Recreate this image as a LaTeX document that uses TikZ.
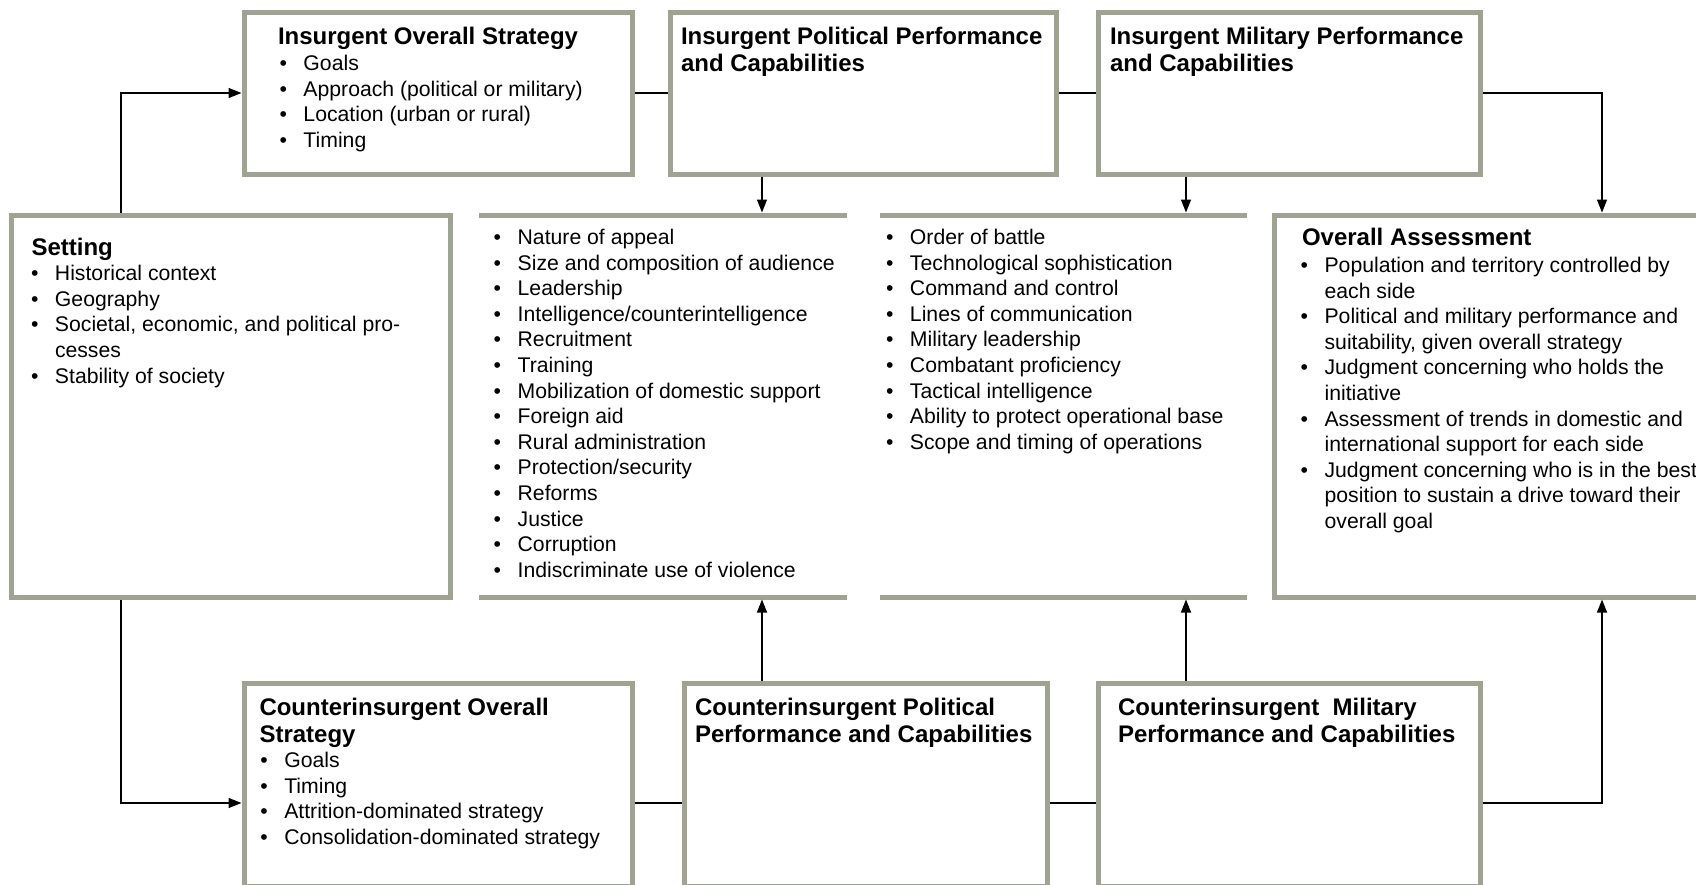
\documentclass[tikz,border=0pt]{standalone}
\usepackage{fontspec}
\setmainfont{Liberation Sans}
\usetikzlibrary{arrows.meta}
\definecolor{bordercol}{RGB}{158,163,146}
\newcommand\bodyfnt{\fontsize{21.2}{25.6}\selectfont}
\newcommand\titlefnt{\fontsize{24}{27}\selectfont\bfseries}
\newcommand\bi[1]{\makebox[24pt][l]{•}#1}
\newcommand\bc[1]{\hspace*{24pt}#1}
\begin{document}
\begin{tikzpicture}[x=1pt,y=-1pt,
  box/.style={draw=bordercol,line width=5pt,inner sep=0pt},
  area/.style={inner sep=0pt,outer sep=0pt},
  rulelin/.style={draw=bordercol,line width=5pt},
  conn/.style={line width=1.3pt},
  arr/.style={conn,-{Triangle[length=13pt,width=10pt]}},
  ttl/.style={anchor=base west,inner sep=0pt,outer sep=0pt,align=left,font=\titlefnt},
  lst/.style={anchor=base west,inner sep=0pt,outer sep=0pt,align=left,font=\bodyfnt},
]
\useasboundingbox (0,0) rectangle (1696,884);
\clip (0,0) rectangle (1696,884);

% boxes
\node[box,minimum width=388pt,minimum height=162pt] (ios) at (438,93) {};
\node[box,minimum width=386pt,minimum height=162pt] (ipp) at (863,93) {};
\node[box,minimum width=382pt,minimum height=162pt] (imp) at (1289,93) {};
\node[box,minimum width=439pt,minimum height=382pt] (setting) at (230.5,406) {};
\node[area,minimum width=368pt,minimum height=382pt] (pol) at (663,406) {};
\node[area,minimum width=367pt,minimum height=382pt] (mil) at (1063.5,406) {};
\node[box,minimum width=446pt,minimum height=382pt] (oa) at (1497,406) {};
\node[box,minimum width=388pt,minimum height=203pt] (cios) at (438,784.5) {};
\node[box,minimum width=363pt,minimum height=203pt] (cipp) at (865.5,784.5) {};
\node[box,minimum width=382pt,minimum height=203pt] (cimp) at (1289,784.5) {};

\draw[rulelin] (pol.north west) -- (pol.north east);
\draw[rulelin] (pol.south west) -- (pol.south east);
\draw[rulelin] (mil.north west) -- (mil.north east);
\draw[rulelin] (mil.south west) -- (mil.south east);

% texts (base anchor = baseline of the last line)
\node[ttl] (iost) at (278,44.6) {Insurgent Overall Strategy};
\node[lst] (iosl) at (279.5,147.4) {\bi{Goals}\\\bi{Approach (political or military)}\\\bi{Location (urban or rural)}\\\bi{Timing}};
\node[ttl] (ippt) at (681,71.6) {Insurgent Political Performance\\and Capabilities};
\node[ttl] (impt) at (1110,71.6) {Insurgent Military Performance\\and Capabilities};

\node[ttl] (sett) at (31.5,255.6) {Setting};
\node[lst] (setl) at (31,383) {\bi{Historical context}\\\bi{Geography}\\\bi{Societal, economic, and political pro-}\\\bc{cesses}\\\bi{Stability of society}};

\node[lst] (poll) at (493.7,577.2) {\bi{Nature of appeal}\\\bi{Size and composition of audience}\\\bi{Leadership}\\\bi{Intelligence/counterintelligence}\\\bi{Recruitment}\\\bi{Training}\\\bi{Mobilization of domestic support}\\\bi{Foreign aid}\\\bi{Rural administration}\\\bi{Protection/security}\\\bi{Reforms}\\\bi{Justice}\\\bi{Corruption}\\\bi{Indiscriminate use of violence}};

\node[lst] (mill) at (886,449.2) {\bi{Order of battle}\\\bi{Technological sophistication}\\\bi{Command and control}\\\bi{Lines of communication}\\\bi{Military leadership}\\\bi{Combatant proficiency}\\\bi{Tactical intelligence}\\\bi{Ability to protect operational base}\\\bi{Scope and timing of operations}};

\node[ttl] (oat) at (1302,245.6) {Overall Assessment};
\node[lst] (oal) at (1300.6,528.4) {\bi{Population and territory controlled by}\\\bc{each side}\\\bi{Political and military performance and}\\\bc{suitability, given overall strategy}\\\bi{Judgment concerning who holds the}\\\bc{initiative}\\\bi{Assessment of trends in domestic and}\\\bc{international support for each side}\\\bi{Judgment concerning who is in the best}\\\bc{position to sustain a drive toward their}\\\bc{overall goal}};

\node[ttl] (ciost) at (259.5,742) {Counterinsurgent Overall\\Strategy};
\node[lst] (ciosl) at (260.3,844.2) {\bi{Goals}\\\bi{Timing}\\\bi{Attrition-dominated strategy}\\\bi{Consolidation-dominated strategy}};
\node[ttl] (cippt) at (695,742) {Counterinsurgent Political\\Performance and Capabilities};
\node[ttl] (cimpt) at (1118,742) {Counterinsurgent~ Military\\Performance and Capabilities};

% connector guide coordinates
\coordinate (xL) at (121,0);
\coordinate (xR) at (1602,0);
\coordinate (xP) at (762,0);
\coordinate (xM) at (1186,0);
\coordinate (lowrow) at (0,803);

% connectors
\draw[arr] (setting.north -| xL) |- (ios.west);
\draw[conn] (ios.east) -- (ipp.west);
\draw[conn] (ipp.east) -- (imp.west);
\draw[arr] (imp.east) -| (oa.north -| xR);
\draw[arr,shorten >=2.5pt] (ipp.south -| xP) -- (pol.north -| xP);
\draw[arr,shorten >=2.5pt] (imp.south -| xM) -- (mil.north -| xM);
\draw[arr] (setting.south -| xL) |- (cios.west |- lowrow);
\draw[conn] (cios.east |- lowrow) -- (cipp.west |- lowrow);
\draw[conn] (cipp.east |- lowrow) -- (cimp.west |- lowrow);
\draw[arr] (cimp.east |- lowrow) -| (oa.south -| xR);
\draw[arr,shorten >=2.5pt] (cipp.north -| xP) -- (pol.south -| xP);
\draw[arr,shorten >=2.5pt] (cimp.north -| xM) -- (mil.south -| xM);
\end{tikzpicture}
\end{document}
